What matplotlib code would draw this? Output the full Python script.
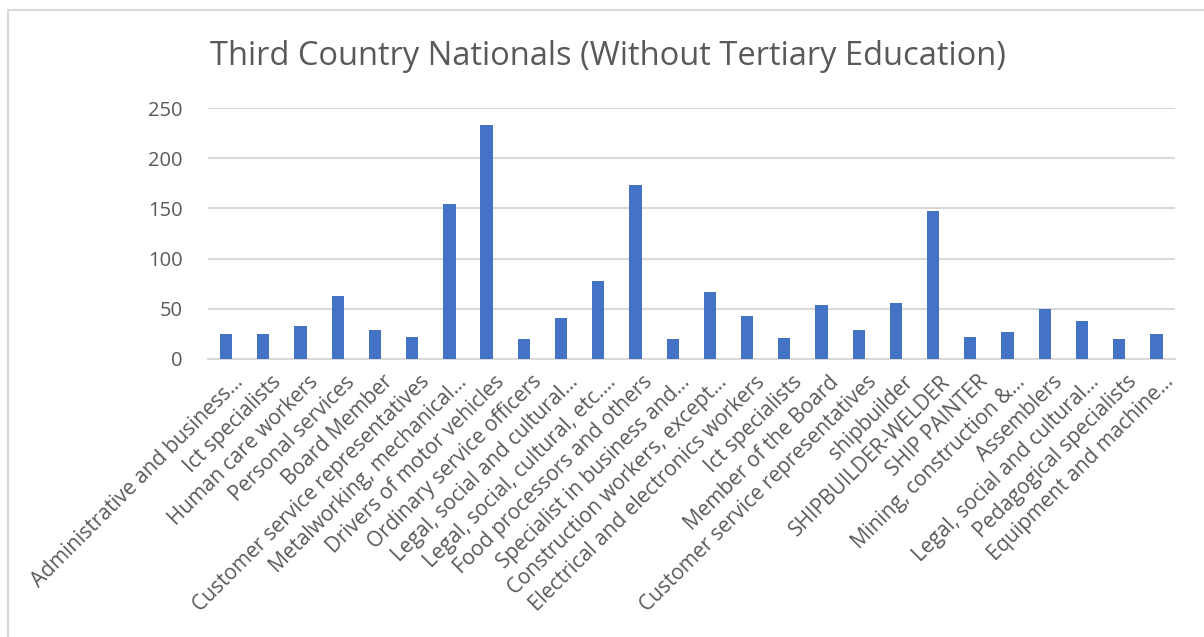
import matplotlib
matplotlib.use("Agg")
import matplotlib.pyplot as plt
from matplotlib.lines import Line2D
from matplotlib.transforms import ScaledTranslation

categories = [
    "Administrative and business...",
    "Ict specialists",
    "Human care workers",
    "Personal services",
    "Board Member",
    "Customer service representatives",
    "Metalworking, mechanical...",
    "Drivers of motor vehicles",
    "Ordinary service officers",
    "Legal, social and cultural...",
    "Legal, social, cultural, etc....",
    "Food processors and others",
    "Specialist in business and...",
    "Construction workers, except...",
    "Electrical and electronics workers",
    "Ict specialists",
    "Member of the Board",
    "Customer service representatives",
    "shipbuilder",
    "SHIPBUILDER-WELDER",
    "SHIP PAINTER",
    "Mining, construction &...",
    "Assemblers",
    "Legal, social and cultural...",
    "Pedagogical specialists",
    "Equipment and machine...",
]
values = [25, 25, 33, 63, 29, 22, 154, 233, 20, 41, 78, 173, 20, 67, 43, 21,
          54, 29, 56, 147, 22, 27, 50, 38, 20, 25]
yticks = [0, 50, 100, 150, 200, 250]
title = "Third Country Nationals (Without Tertiary Education)"

W, H = 1204, 637
fig = plt.figure(figsize=(W / 100, H / 100), dpi=100)
plt.rcParams['font.family'] = ['Open Sans', 'DejaVu Sans']

gray_text = "#595959"
grid_c = "#d9d9d9"

ax = fig.add_axes([207.5 / W, 1 - 359 / H, (1175 - 207.5) / W, (359 - 108) / H])
x = list(range(len(categories)))
ax.bar(x, values, width=0.33, color="#4472c4", zorder=3)
ax.set_xlim(-0.5, len(categories) - 0.5)
ax.set_ylim(0, 250)
ax.set_yticks(yticks)
ax.set_yticklabels([str(t) for t in yticks])
ax.yaxis.grid(True, color=grid_c, linewidth=1.5, zorder=0)
ax.set_axisbelow(True)
for s in ["top", "right", "left"]:
    ax.spines[s].set_visible(False)
ax.spines["bottom"].set_color(grid_c)
ax.spines["bottom"].set_linewidth(1.5)
ax.tick_params(axis="y", length=0, colors=gray_text, labelsize=14.5, pad=18)
ax.tick_params(axis="x", length=0, colors=gray_text, labelsize=15, pad=9)
ax.set_xticks(x)
ax.set_xticklabels(categories, rotation=45, ha="right", va="top",
                   rotation_mode="anchor")
off = ScaledTranslation(7 / 100, 0, fig.dpi_scale_trans)
for lbl in ax.get_xticklabels():
    lbl.set_transform(lbl.get_transform() + off)

fig.text(608 / W, 1 - 65 / H, title, ha="center", va="baseline",
         fontsize=23.5, color=gray_text)

# chart border (left and top)
fig.add_artist(Line2D([7.5 / W, 7.5 / W], [0, 1 - 9.5 / H], color=grid_c, lw=1.5,
                      transform=fig.transFigure))
fig.add_artist(Line2D([7.5 / W, 1], [1 - 9.5 / H, 1 - 9.5 / H], color=grid_c, lw=1.5,
                      transform=fig.transFigure))

fig.savefig("out.png", dpi=100, facecolor="white")
